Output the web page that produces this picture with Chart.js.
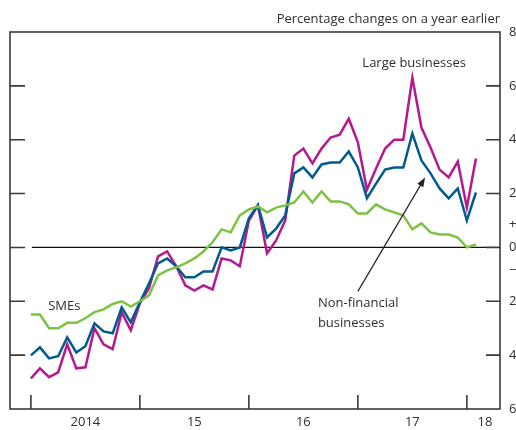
<!DOCTYPE html>
<html lang="en">
<head>
    <meta charset="UTF-8">
    <title>Lending to businesses</title>
    <script src="https://cdn.jsdelivr.net/npm/chart.js"></script>
    <style>
        html, body {
            margin: 0;
            padding: 0;
            background: white;
            overflow: hidden;
        }
        #wrap {
            width: 516px;
            height: 430px;
        }
    </style>
</head>
<body>
    <div id="wrap"><canvas id="lendingChart" width="516" height="430"></canvas></div>

    <script>
        // months from Jan 2014 (index 0) to Feb 2018 (index 49)
        let smes = [-2.49, -2.49, -3.0, -3.0, -2.8, -2.8, -2.63, -2.4, -2.3, -2.1, -2.0, -2.2, -2.0,
            -1.78, -1.04, -0.85, -0.74, -0.59, -0.41, -0.15, 0.19, 0.67, 0.56, 1.19, 1.41,
            1.52, 1.30, 1.48, 1.56, 1.67, 2.08, 1.67, 2.08, 1.71, 1.71, 1.60, 1.26,
            1.26, 1.6, 1.41, 1.30, 1.19, 0.67, 0.89, 0.56, 0.48, 0.48, 0.37, 0.0, 0.11];
        let nonFinancial = [-4.01, -3.71, -4.12, -4.04, -3.34, -3.90, -3.67, -2.82, -3.12, -3.19, -2.23, -2.78, -2.04,
            -1.34, -0.59, -0.41, -0.70, -1.11, -1.11, -0.89, -0.89, 0.0, -0.11, 0.0, 1.08,
            1.58, 0.37, 0.70, 1.19, 2.75, 2.97, 2.60, 3.08, 3.15, 3.15, 3.56, 2.97,
            1.83, 2.37, 2.89, 2.97, 2.97, 4.23, 3.23, 2.75, 2.19, 1.82, 2.19, 1.0, 2.04];
        let largeBusinesses = [-4.86, -4.49, -4.82, -4.64, -3.60, -4.49, -4.45, -3.0, -3.6, -3.78, -2.41, -3.08, -2.08,
            -1.52, -0.33, -0.15, -0.70, -1.41, -1.60, -1.41, -1.56, -0.41, -0.48, -0.70, 1.0,
            1.56, -0.22, 0.26, 1.0, 3.41, 3.67, 3.12, 3.67, 4.08, 4.19, 4.78, 3.9,
            2.14, 2.93, 3.67, 4.0, 4.0, 6.3, 4.45, 3.71, 2.89, 2.6, 3.19, 1.48, 3.3];

        let yearTicks = [0, 12, 24, 36, 48];
        let yearLabelPos = [6, 18, 30, 42, 50];
        let yearLabels = ['2014', '15', '16', '17', '18'];
        let yTicks = [-6, -4, -2, -0.85, 0, 0.85, 2, 4, 6, 8];

        let textColor = '#2e2e2e';
        let fontFamily = '"Open Sans", sans-serif';

        function toPoints(arr) {
            return arr.map((v, i) => ({ x: i, y: v }));
        }

        let framePlugin = {
            id: 'frame',
            beforeDatasetsDraw(chart) {
                let ctx = chart.ctx;
                let a = chart.chartArea;
                let xs = chart.scales.x;
                let ys = chart.scales.y;
                ctx.save();
                // zero line
                ctx.strokeStyle = '#111';
                ctx.lineWidth = 1.2;
                ctx.beginPath();
                ctx.moveTo(xs.getPixelForValue(0) + 1, ys.getPixelForValue(0));
                ctx.lineTo(a.right, ys.getPixelForValue(0));
                ctx.stroke();
                ctx.restore();
            },
            afterDraw(chart) {
                let ctx = chart.ctx;
                let a = chart.chartArea;
                let xs = chart.scales.x;
                let ys = chart.scales.y;
                ctx.save();
                ctx.strokeStyle = '#3a3a3a';
                ctx.lineWidth = 1.6;
                ctx.strokeRect(a.left, a.top, a.right - a.left, a.bottom - a.top);
                ctx.beginPath();
                [-4, -2, 0, 2, 4, 6].forEach(v => {
                    let py = ys.getPixelForValue(v);
                    ctx.moveTo(a.left, py);
                    ctx.lineTo(a.left + 15, py);
                    ctx.moveTo(a.right - 14, py);
                    ctx.lineTo(a.right, py);
                });
                yearTicks.forEach(m => {
                    let px = xs.getPixelForValue(m);
                    ctx.moveTo(px, a.bottom);
                    ctx.lineTo(px, a.bottom - 14);
                });
                ctx.stroke();

                // texts
                ctx.fillStyle = textColor;
                ctx.font = '13px ' + fontFamily;
                ctx.textBaseline = 'middle';
                ctx.textAlign = 'right';
                ctx.fillText('Percentage changes on a year earlier', a.right, a.top - 13);
                ctx.textAlign = 'center';
                ctx.fillText('Large businesses', xs.getPixelForValue(42.2), ys.getPixelForValue(6.83));
                ctx.textAlign = 'left';
                ctx.fillText('SMEs', xs.getPixelForValue(1.9), ys.getPixelForValue(-2.19));
                ctx.fillText('Non-financial', xs.getPixelForValue(31.6), ys.getPixelForValue(-2.08));
                ctx.fillText('businesses', xs.getPixelForValue(31.6), ys.getPixelForValue(-2.82));

                // arrow
                let x1 = xs.getPixelForValue(36), y1 = ys.getPixelForValue(-1.63);
                let x2 = xs.getPixelForValue(43.4), y2 = ys.getPixelForValue(2.6);
                let ang = Math.atan2(y2 - y1, x2 - x1);
                ctx.strokeStyle = '#222';
                ctx.lineWidth = 1.2;
                ctx.beginPath();
                ctx.moveTo(x1, y1);
                ctx.lineTo(x2 - 6 * Math.cos(ang), y2 - 6 * Math.sin(ang));
                ctx.stroke();
                ctx.fillStyle = '#222';
                ctx.beginPath();
                ctx.moveTo(x2, y2);
                ctx.lineTo(x2 - 10 * Math.cos(ang - 0.35), y2 - 10 * Math.sin(ang - 0.35));
                ctx.lineTo(x2 - 10 * Math.cos(ang + 0.35), y2 - 10 * Math.sin(ang + 0.35));
                ctx.closePath();
                ctx.fill();
                ctx.restore();
            }
        };

        let ctx = document.getElementById('lendingChart').getContext('2d');
        let lendingChart = new Chart(ctx, {
            type: 'line',
            data: {
                datasets: [
                    { label: 'SMEs', data: toPoints(smes), borderColor: '#7DC242', borderWidth: 2.5 },
                    { label: 'Non-financial businesses', data: toPoints(nonFinancial), borderColor: '#005B8F', borderWidth: 2.5 },
                    { label: 'Large businesses', data: toPoints(largeBusinesses), borderColor: '#B5198F', borderWidth: 2.5 }
                ]
            },
            options: {
                responsive: false,
                animation: false,
                events: [],
                elements: {
                    point: { radius: 0 },
                    line: { tension: 0, borderJoinStyle: 'miter', fill: false }
                },
                layout: { padding: { left: 10, top: 32, right: 0, bottom: 0 } },
                plugins: {
                    legend: { display: false },
                    tooltip: { enabled: false }
                },
                scales: {
                    x: {
                        type: 'linear',
                        min: -2.3,
                        max: 51.65,
                        grid: { display: false, drawTicks: false },
                        border: { display: false },
                        afterBuildTicks: axis => {
                            axis.ticks = yearLabelPos.map(v => ({ value: v }));
                        },
                        afterFit: axis => { axis.height = 21; },
                        ticks: {
                            autoSkip: false,
                            maxRotation: 0,
                            padding: 5,
                            color: textColor,
                            font: { family: fontFamily, size: 13 },
                            callback: v => yearLabels[yearLabelPos.indexOf(v)]
                        }
                    },
                    y: {
                        position: 'right',
                        min: -6,
                        max: 8,
                        grid: { display: false, drawTicks: false },
                        border: { display: false },
                        afterBuildTicks: axis => {
                            axis.ticks = yTicks.map(v => ({ value: v }));
                        },
                        afterFit: axis => { axis.width = 16; },
                        ticks: {
                            autoSkip: false,
                            padding: 9,
                            color: textColor,
                            font: { family: fontFamily, size: 13 },
                            callback: v => v === 0.85 ? '+' : (v === -0.85 ? '\u2212' : Math.abs(v))
                        }
                    }
                }
            },
            plugins: [framePlugin]
        });
    </script>
</body>
</html>
